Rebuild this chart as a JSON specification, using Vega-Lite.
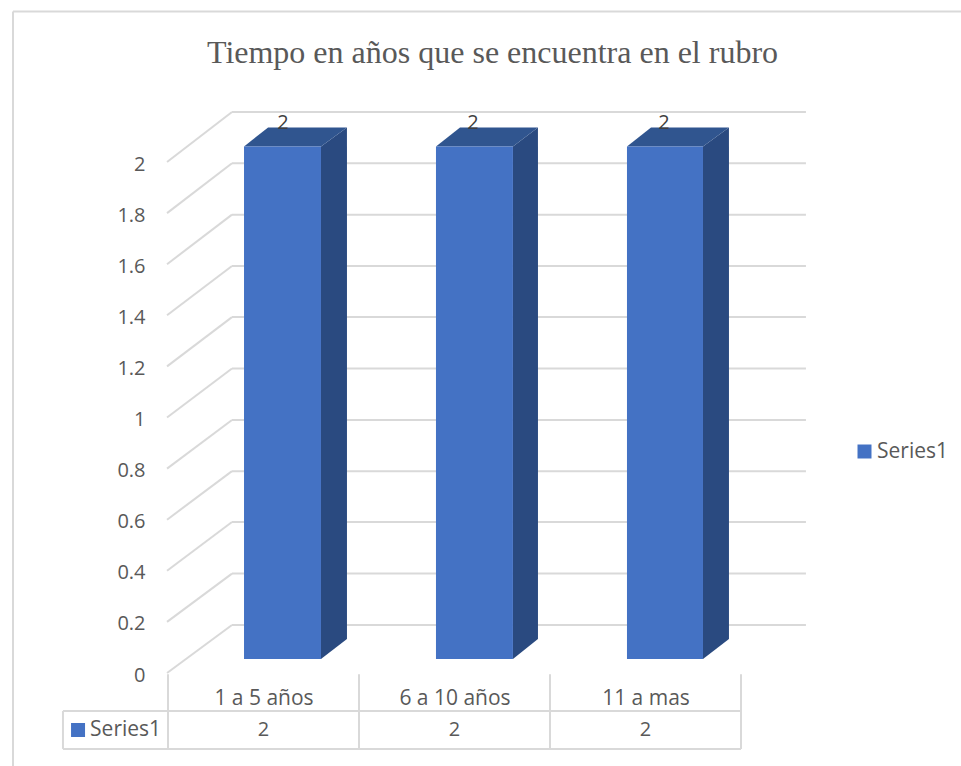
{
"$schema":"https://vega.github.io/schema/vega-lite/v6.json",
"width":573,"height":511,
"autosize":{"type":"none"},
"padding":{"left":168,"top":162,"right":220,"bottom":93},
"background":"white",
"title":{"text":"Tiempo en años que se encuentra en el rubro","font":"Liberation Serif","fontSize":32,"fontWeight":"normal","color":"#595959","anchor":"middle","frame":"group","dx":38,"dy":63},
"config":{"view":{"stroke":null},"text":{"font":"Open Sans"}},
"datasets":{
"lines":[
{"kind":"frame","u0":-0.8115,"u1":4.152,"v0":2.589,"v1":2.589},
{"kind":"frame","u0":-0.8115,"u1":-0.8115,"v0":2.589,"v1":-0.364},
{"kind":"table","u0":0,"u1":0,"v0":-0.005,"v1":-0.297},
{"kind":"table","u0":1,"u1":1,"v0":-0.005,"v1":-0.297},
{"kind":"table","u0":2,"u1":2,"v0":-0.005,"v1":-0.297},
{"kind":"table","u0":3,"u1":3,"v0":-0.005,"v1":-0.297},
{"kind":"table","u0":-0.55,"u1":-0.55,"v0":-0.149,"v1":-0.297},
{"kind":"table","u0":-0.55,"u1":3,"v0":-0.149,"v1":-0.149},
{"kind":"table","u0":-0.55,"u1":3,"v0":-0.297,"v1":-0.297},
{"kind":"diag","u0":-0.005,"u1":0.335,"v0":2,"v1":2.196},
{"kind":"diag","u0":-0.005,"u1":0.335,"v0":1.8,"v1":1.995},
{"kind":"diag","u0":-0.005,"u1":0.335,"v0":1.6,"v1":1.794},
{"kind":"diag","u0":-0.005,"u1":0.335,"v0":1.4,"v1":1.593},
{"kind":"diag","u0":-0.005,"u1":0.335,"v0":1.2,"v1":1.393},
{"kind":"diag","u0":-0.005,"u1":0.335,"v0":1,"v1":1.192},
{"kind":"diag","u0":-0.005,"u1":0.335,"v0":0.8,"v1":0.99},
{"kind":"diag","u0":-0.005,"u1":0.335,"v0":0.6,"v1":0.79},
{"kind":"diag","u0":-0.005,"u1":0.335,"v0":0.4,"v1":0.591},
{"kind":"diag","u0":-0.005,"u1":0.335,"v0":0.2,"v1":0.389},
{"kind":"diag","u0":-0.005,"u1":0.335,"v0":0,"v1":0.188},
{"kind":"wall","u0":0.335,"u1":3.34,"v0":2.196,"v1":2.196},
{"kind":"wall","u0":0.335,"u1":3.34,"v0":1.995,"v1":1.995},
{"kind":"wall","u0":0.335,"u1":3.34,"v0":1.794,"v1":1.794},
{"kind":"wall","u0":0.335,"u1":3.34,"v0":1.593,"v1":1.593},
{"kind":"wall","u0":0.335,"u1":3.34,"v0":1.393,"v1":1.393},
{"kind":"wall","u0":0.335,"u1":3.34,"v0":1.192,"v1":1.192},
{"kind":"wall","u0":0.335,"u1":3.34,"v0":0.99,"v1":0.99},
{"kind":"wall","u0":0.335,"u1":3.34,"v0":0.79,"v1":0.79},
{"kind":"wall","u0":0.335,"u1":3.34,"v0":0.591,"v1":0.591},
{"kind":"wall","u0":0.335,"u1":3.34,"v0":0.389,"v1":0.389},
{"kind":"wall","u0":0.335,"u1":3.34,"v0":0.188,"v1":0.188}
],
"bars":[
{"categoria":"1 a 5 años","serie":"Series1","valor":2,"u0":0.398,"u1":0.801,"base":0.055,"tope":2.061,"ulabel":0.602,"vlabel":2.154,"utable":0.5,"vtable":-0.223},
{"categoria":"6 a 10 años","serie":"Series1","valor":2,"u0":1.403,"u1":1.806,"base":0.055,"tope":2.061,"ulabel":1.597,"vlabel":2.154,"utable":1.5,"vtable":-0.223},
{"categoria":"11 a mas","serie":"Series1","valor":2,"u0":2.403,"u1":2.801,"base":0.055,"tope":2.061,"ulabel":2.597,"vlabel":2.154,"utable":2.5,"vtable":-0.223}
],
"side":[
{"categoria":"1 a 5 años","u":0.801,"a":0.055,"b":2.061},
{"categoria":"1 a 5 años","u":0.937,"a":0.133,"b":2.135},
{"categoria":"6 a 10 años","u":1.806,"a":0.055,"b":2.061},
{"categoria":"6 a 10 años","u":1.937,"a":0.133,"b":2.135},
{"categoria":"11 a mas","u":2.801,"a":0.055,"b":2.061},
{"categoria":"11 a mas","u":2.937,"a":0.133,"b":2.135}
],
"top":[
{"categoria":"1 a 5 años","u":0.398,"a":2.061,"b":2.061},
{"categoria":"1 a 5 años","u":0.524,"a":2.061,"b":2.135},
{"categoria":"1 a 5 años","u":0.801,"a":2.061,"b":2.135},
{"categoria":"1 a 5 años","u":0.937,"a":2.135,"b":2.135},
{"categoria":"6 a 10 años","u":1.403,"a":2.061,"b":2.061},
{"categoria":"6 a 10 años","u":1.529,"a":2.061,"b":2.135},
{"categoria":"6 a 10 años","u":1.806,"a":2.061,"b":2.135},
{"categoria":"6 a 10 años","u":1.937,"a":2.135,"b":2.135},
{"categoria":"11 a mas","u":2.403,"a":2.061,"b":2.061},
{"categoria":"11 a mas","u":2.529,"a":2.061,"b":2.135},
{"categoria":"11 a mas","u":2.801,"a":2.061,"b":2.135},
{"categoria":"11 a mas","u":2.937,"a":2.135,"b":2.135}
],
"key":[{"serie":"Series1","us":-0.471,"ut":-0.408,"v":-0.223}]
},
"layer":[
{"data":{"name":"lines"},"mark":{"type":"rule","color":"#D9D9D9","strokeWidth":2},
"encoding":{
"x":{"field":"u0","type":"quantitative","title":null,"scale":{"domain":[0,3],"nice":false,"zero":false},
"axis":{"values":[0.5,1.5,2.5],"grid":false,"domain":false,"ticks":false,"labelPadding":14,"labelFont":"Open Sans","labelFontSize":21,"labelColor":"#595959","labelFlush":false,"labelOverlap":false,"labelExpr":"datum.value==0.5?'1 a 5 años':datum.value==1.5?'6 a 10 años':'11 a mas'"}},
"x2":{"field":"u1"},
"y":{"field":"v0","type":"quantitative","title":null,"scale":{"domain":[0,2],"nice":false,"zero":false},
"axis":{"values":[0,0.2,0.4,0.6,0.8,1,1.2,1.4,1.6,1.8,2],"grid":false,"domain":false,"ticks":false,"labelPadding":23,"labelOffset":2,"labelFont":"Open Sans","labelFontSize":20,"labelColor":"#595959","labelFlush":false,"labelOverlap":false,"format":"~g"}},
"y2":{"field":"v1"}}},
{"data":{"name":"side"},"mark":{"type":"area","color":"#2A4A80"},
"encoding":{"x":{"field":"u","type":"quantitative"},"y":{"field":"a","type":"quantitative"},"y2":{"field":"b"},"detail":{"field":"categoria"}}},
{"data":{"name":"top"},"mark":{"type":"area","color":"#30558F"},
"encoding":{"x":{"field":"u","type":"quantitative"},"y":{"field":"a","type":"quantitative"},"y2":{"field":"b"},"detail":{"field":"categoria"}}},
{"data":{"name":"bars"},"mark":{"type":"rect"},
"encoding":{"x":{"field":"u0","type":"quantitative"},"x2":{"field":"u1"},"y":{"field":"base","type":"quantitative"},"y2":{"field":"tope"},
"color":{"field":"serie","type":"nominal","scale":{"domain":["Series1"],"range":["#4472C4"]},
"legend":{"title":null,"orient":"none","legendX":686,"legendY":279,"symbolType":"square","symbolSize":196,"labelFont":"Open Sans","labelFontSize":21,"labelColor":"#595959","labelOffset":2}}}},
{"data":{"name":"bars"},"mark":{"type":"text","fontSize":20,"color":"#404040","baseline":"middle","align":"center"},
"encoding":{"x":{"field":"ulabel","type":"quantitative"},"y":{"field":"vlabel","type":"quantitative"},"text":{"field":"valor","type":"quantitative"}}},
{"data":{"name":"bars"},"mark":{"type":"text","fontSize":20,"color":"#595959","baseline":"middle","align":"center"},
"encoding":{"x":{"field":"utable","type":"quantitative"},"y":{"field":"vtable","type":"quantitative"},"text":{"field":"valor","type":"quantitative"}}},
{"data":{"name":"key"},"mark":{"type":"point","shape":"square","filled":true,"size":196,"opacity":1,"strokeWidth":0,"color":"#4472C4"},
"encoding":{"x":{"field":"us","type":"quantitative"},"y":{"field":"v","type":"quantitative"}}},
{"data":{"name":"key"},"mark":{"type":"text","fontSize":21,"color":"#595959","baseline":"middle","align":"left"},
"encoding":{"x":{"field":"ut","type":"quantitative"},"y":{"field":"v","type":"quantitative"},"text":{"field":"serie"}}}
]
}
